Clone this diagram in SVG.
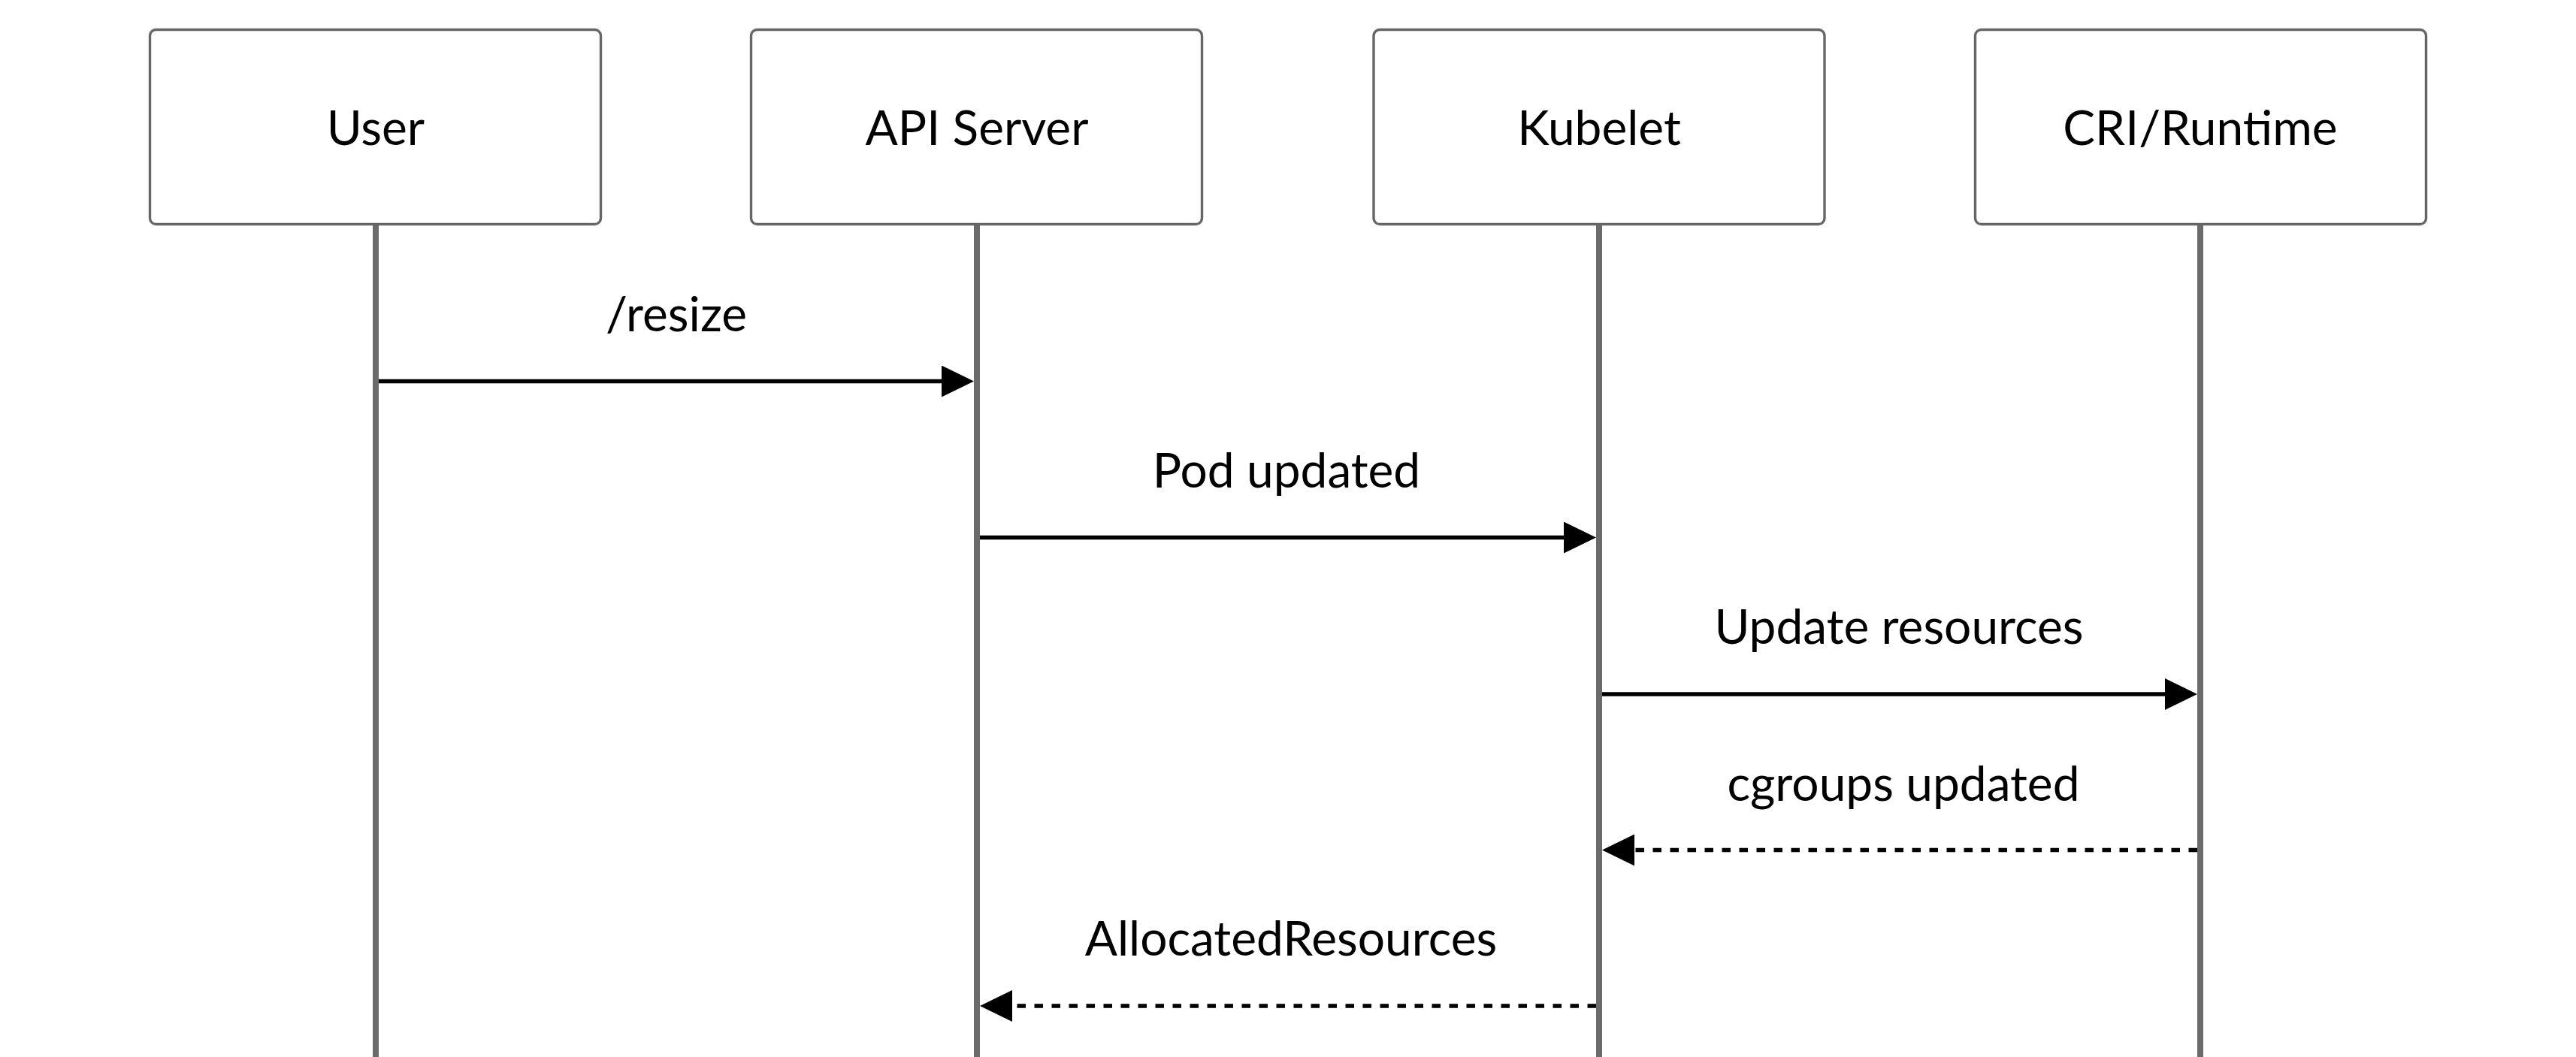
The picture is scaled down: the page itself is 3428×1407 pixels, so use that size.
<svg xmlns="http://www.w3.org/2000/svg" width="3428" height="1407" viewBox="0 0 3428 1407">
<style>
.box{fill:#ffffff;stroke:#666666;stroke-width:3.4}
.life{stroke:#6b6b6b;stroke-width:8}
.lbl{font-family:Lato,"Open Sans","Liberation Sans",sans-serif;font-size:64px;fill:#000;text-anchor:middle}
.msg{stroke:#000;stroke-width:5.7;fill:none}
.dash{stroke-dasharray:11.5 11.5}
</style>
<defs>
<marker id="ah" markerUnits="userSpaceOnUse" markerWidth="44" markerHeight="44" refX="0" refY="21" orient="auto" viewBox="0 0 44 44">
<path d="M0,0 L43,21 L0,42 Z" fill="#000"/>
</marker>
</defs>
<rect width="3428" height="1407" fill="#ffffff"/>
<g id="lifelines">
<line class="life" x1="500" y1="299" x2="500" y2="1407"/>
<line class="life" x1="1300" y1="299" x2="1300" y2="1407"/>
<line class="life" x1="2128" y1="299" x2="2128" y2="1407"/>
<line class="life" x1="2928" y1="299" x2="2928" y2="1407"/>
</g>
<g id="user">
<rect class="box" x="199.5" y="39.5" width="600" height="259" rx="8"/>
<text class="lbl" x="500" y="193">User</text>
</g>
<g id="apiserver">
<rect class="box" x="999.5" y="39.5" width="600" height="259" rx="8"/>
<text class="lbl" x="1300" y="193">API Server</text>
</g>
<g id="kubelet">
<rect class="box" x="1828" y="39.5" width="600" height="259" rx="8"/>
<text class="lbl" x="2128" y="193">Kubelet</text>
</g>
<g id="cri">
<rect class="box" x="2628.5" y="39.5" width="600" height="259" rx="8"/>
<text class="lbl" x="2928" y="193">CRI/Runtime</text>
</g>
<g id="connectors">
<line class="msg" x1="504" y1="507.5" x2="1253" y2="507.5" marker-end="url(#ah)"/>
<text class="lbl" x="900" y="441">/resize</text>
<line class="msg" x1="1304" y1="715.5" x2="2081" y2="715.5" marker-end="url(#ah)"/>
<text class="lbl" x="1712" y="649">Pod updated</text>
<line class="msg" x1="2132" y1="924" x2="2881" y2="924" marker-end="url(#ah)"/>
<text class="lbl" x="2527" y="857">Update resources</text>
<line class="msg dash" x1="2924" y1="1131.5" x2="2175" y2="1131.5" marker-end="url(#ah)"/>
<text class="lbl" x="2533" y="1066">cgroups updated</text>
<line class="msg dash" x1="2124" y1="1339" x2="1347" y2="1339" marker-end="url(#ah)"/>
<text class="lbl" x="1718" y="1272">AllocatedResources</text>
</g>
</svg>
